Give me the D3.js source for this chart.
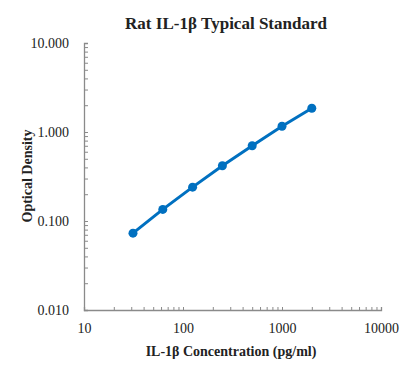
<!DOCTYPE html>
<html>
<head>
<meta charset="utf-8">
<script src="https://cdn.jsdelivr.net/npm/d3@7"></script>
<style>
  body { margin: 0; background: #fff; }
  text { font-family: "Liberation Serif", "Times New Roman", serif; fill: #222; }
</style>
</head>
<body>
<div id="vis"></div>
<script>
// concentration (pg/ml) and OD
const conc = [31.25, 62.5, 125, 250, 500, 1000, 2000];
const od = [0.073, 0.135, 0.240, 0.418, 0.70, 1.16, 1.85];
const xTicks = [10, 100, 1000, 10000];
const yTicks = [0.01, 0.1, 1, 10];

const width = 409, height = 386;
const margin = {top: 43, right: 28, bottom: 76, left: 84};

const svg = d3.select("#vis").append("svg")
    .attr("width", width)
    .attr("height", height);

const x = d3.scaleLog().domain([10, 10000]).range([margin.left, width - margin.right]);
const y = d3.scaleLog().domain([0.01, 10]).range([height - margin.bottom, margin.top]);

const axisColor = "#8a8a8a";

// x axis: minor ticks pointing inward
const gx = svg.append("g")
    .attr("transform", "translate(0," + (height - margin.bottom) + ")")
    .call(d3.axisTop(x).tickValues(x.ticks()).tickSize(3).tickFormat(""));
gx.select(".domain").attr("stroke", axisColor).attr("stroke-width", 1.3);
gx.selectAll(".tick line").attr("stroke", axisColor);

svg.append("g")
    .attr("transform", "translate(0," + (height - margin.bottom) + ")")
    .call(d3.axisBottom(x).tickValues(xTicks).tickSize(0).tickPadding(13).tickFormat(d3.format("d")))
    .call(g => g.select(".domain").remove())
    .selectAll("text")
    .style("font-size", "14px")
    .style("font-family", "Liberation Serif")
    .attr("fill", "#222");

// y axis
const gy = svg.append("g")
    .attr("transform", "translate(" + margin.left + ",0)")
    .call(d3.axisRight(y).tickValues(y.ticks()).tickSize(4).tickFormat(""));
gy.select(".domain").attr("stroke", axisColor).attr("stroke-width", 1.3);
gy.selectAll(".tick line").attr("stroke", axisColor);

svg.append("g")
    .attr("transform", "translate(" + margin.left + ",0)")
    .call(d3.axisLeft(y).tickValues(yTicks).tickSize(0).tickPadding(15).tickFormat(d3.format(".3f")))
    .call(g => g.select(".domain").remove())
    .selectAll("text")
    .style("font-size", "14px")
    .style("font-family", "Liberation Serif")
    .attr("fill", "#222");

// line + points
const data = conc.map((c, i) => ({c: c, v: od[i]}));
const line = d3.line().x(d => x(d.c)).y(d => y(d.v));

svg.append("path")
    .datum(data)
    .attr("fill", "none")
    .attr("stroke", "#0070c0")
    .attr("stroke-width", 3)
    .attr("d", line);

svg.selectAll(".dot")
    .data(data)
  .enter().append("circle")
    .attr("class", "dot")
    .attr("cx", d => x(d.c))
    .attr("cy", d => y(d.v))
    .attr("r", 4.5)
    .attr("fill", "#0070c0");

// titles
svg.append("text")
    .attr("x", 226).attr("y", 29)
    .attr("text-anchor", "middle")
    .style("font-size", "17px").style("font-weight", "bold")
    .text("Rat IL-1β Typical Standard");

svg.append("text")
    .attr("x", 231).attr("y", 356)
    .attr("text-anchor", "middle")
    .style("font-size", "14px").style("font-weight", "bold")
    .text("IL-1β Concentration (pg/ml)");

svg.append("text")
    .attr("transform", "translate(32,176) rotate(-90)")
    .attr("text-anchor", "middle")
    .style("font-size", "14px").style("font-weight", "bold")
    .text("Optical Density");
</script>
</body>
</html>
